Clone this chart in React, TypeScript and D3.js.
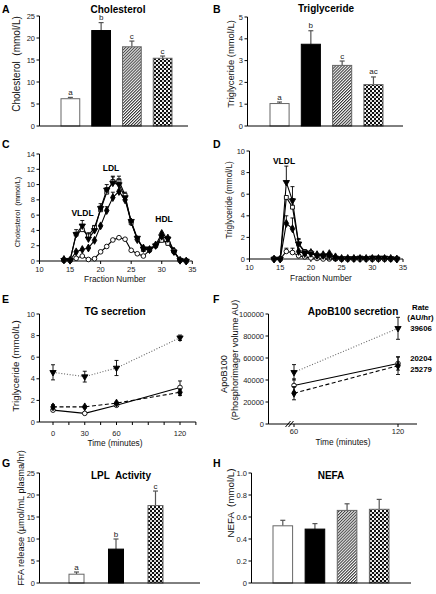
import React from "react";
import * as d3 from "d3";

const FONT = '"Liberation Sans", Arial, Helvetica, sans-serif';

// ---------- Bar panel data ----------
const barGroups = ["G1", "G2", "G3", "G4"];
const cholValues = [6.2, 21.7, 18.0, 15.4];
const cholErrors = [0.3, 1.8, 1.3, 0.5];
const cholLetters = ["a", "b", "c", "c"];
const cholTicks = [0, 5, 10, 15, 20, 25];

const tgValues = [1.03, 3.75, 2.78, 1.9];
const tgErrors = [0.07, 0.62, 0.2, 0.35];
const tgLetters = ["a", "b", "c", "ac"];
const tgTicks = [0, 1, 2, 3, 4, 5];

const lplGroups = ["G1", "G2", "G4"];
const lplValues = [2.0, 7.7, 17.6];
const lplErrors = [0.5, 2.3, 3.3];
const lplLetters = ["a", "b", "c"];
const lplTicks = [0, 5, 10, 15, 20, 25];

const nefaValues = [0.52, 0.49, 0.66, 0.67];
const nefaErrors = [0.05, 0.05, 0.06, 0.09];
const nefaTicks = [0, 0.2, 0.4, 0.6, 0.8, 1.0];

// ---------- FPLC fraction data ----------
const fractions = [14, 15, 16, 17, 18, 19, 20, 21, 22, 23, 24, 25, 26, 27, 28, 29, 30, 31, 32, 33, 34];
const fracTicks = [10, 15, 20, 25, 30, 35];

const cholCircle = [0.1, 0.1, 0.35, 0.65, 0.2, 0.3, 1.2, 1.9, 2.75, 3.05, 2.85, 1.4, 0.95, 0.65, 1.4, 2.0, 2.8, 2.4, 1.2, 0.1, 0.0];
const cholDiamond = [0.2, 0.1, 1.2, 1.5, 1.7, 2.7, 4.6, 6.6, 8.3, 9.1, 8.0, 5.1, 2.8, 1.7, 1.5, 2.1, 3.6, 3.0, 1.3, 0.1, 0.0];
const cholSquare = [0.1, 0.1, 3.5, 4.1, 3.3, 4.4, 6.7, 9.0, 10.4, 10.5, 8.6, 5.0, 2.9, 1.5, 1.5, 2.0, 2.7, 2.3, 1.3, 0.1, 0.0];
const cholTriangle = [0.1, 0.1, 3.5, 4.6, 2.9, 4.0, 6.9, 9.3, 10.2, 10.0, 8.3, 5.2, 3.0, 1.6, 1.6, 2.0, 3.2, 2.9, 1.2, 0.1, 0.0];
const cholDiamondErr = [0, 0, 0, 0, 0, 0, 0, 0.5, 0.7, 0, 0.5, 0, 0, 0, 0, 0, 0, 0, 0, 0, 0];
const cholSquareErr = [0, 0, 0.6, 0, 0, 0, 0.5, 0.6, 0.7, 0.6, 0.4, 0, 0, 0, 0, 0, 0, 0, 0, 0, 0];
const cholTriangleErr = [0, 0, 0, 0.7, 0.8, 0.6, 0.6, 0.7, 0.8, 0.7, 0, 0, 0, 0, 0, 0, 0, 0, 0, 0, 0];
const cholFracTicks = [0, 2, 4, 6, 8, 10, 12, 14];

const tgCircle = [0.0, 0.0, 0.7, 0.6, 0.3, 0.2, 0.1, 0.05, 0.0, 0.0, 0.0, 0.0, 0.0, 0.0, 0.0, 0.0, 0.0, 0.0, 0.0, 0.0, 0.0];
const tgDiamond = [0.0, 0.0, 3.3, 2.8, 0.7, 0.5, 0.6, 0.4, 0.4, 0.5, 0.2, 0.05, 0.05, 0.05, 0.05, 0.05, 0.05, 0.05, 0.05, 0.05, 0.0];
const tgSquare = [0.0, 0.0, 5.7, 4.8, 1.4, 0.7, 0.6, 0.3, 0.3, 0.1, 0.05, 0.0, 0.0, 0.0, 0.0, 0.0, 0.0, 0.0, 0.0, 0.0, 0.0];
const tgTriangle = [0.0, 0.0, 7.1, 5.4, 1.4, 0.6, 0.5, 0.3, 0.3, 0.3, 0.1, 0.05, 0.05, 0.05, 0.1, 0.05, 0.1, 0.1, 0.1, 0.05, 0.0];
const tgCircleErr = [0, 0, 0.3, 0.4, 0, 0, 0, 0, 0, 0, 0, 0, 0, 0, 0, 0, 0, 0, 0, 0, 0];
const tgDiamondErr = [0, 0, 0.7, 1.0, 0, 0, 0, 0, 0, 0, 0, 0, 0, 0, 0, 0, 0, 0, 0, 0, 0];
const tgSquareErr = [0, 0, 0, 0.8, 0.4, 0, 0, 0, 0, 0, 0, 0, 0, 0, 0, 0, 0, 0, 0, 0, 0];
const tgTriangleErr = [0, 0, 1.5, 1.3, 0.5, 0, 0, 0, 0, 0, 0, 0, 0, 0, 0, 0, 0, 0, 0, 0, 0];
const tgFracTicks = [0, 2, 4, 6, 8, 10];

// ---------- TG secretion ----------
const tgTimes = [0, 30, 60, 120];
const tgTimeTicks = [0, 15, 30, 45, 60, 75, 90, 105, 120, 135];
const tgTimeLabels = [0, 30, 60, 120];
const secTriangle = [4.6, 4.2, 5.0, 7.8];
const secTriangleErr = [0.7, 0.5, 0.7, 0.25];
const secDiamond = [1.4, 1.4, 1.75, 2.75];
const secDiamondErr = [0.2, 0.1, 0.1, 0.3];
const secCircle = [1.1, 0.8, 1.55, 3.2];
const secCircleErr = [0.1, 0.05, 0.1, 0.6];
const secTicks = [0, 2, 4, 6, 8, 10];

// ---------- ApoB100 secretion ----------
const apoTimes = [60, 120];
const apoTriangle = [47000, 87000];
const apoTriangleErr = [7000, 10000];
const apoCircle = [35000, 55000];
const apoCircleErr = [6000, 6000];
const apoDiamond = [28000, 53000];
const apoDiamondErr = [6000, 8000];
const apoTicks = [0, 20000, 40000, 60000, 80000, 100000];
const apoRates = ["39606", "20204", "25279"];

const groupFill: Record<string, string> = {
  G1: "#ffffff",
  G2: "#000000",
  G3: "url(#hatch)",
  G4: "url(#check)",
};

type Scale = (v: number) => number;

function YAxis({ y, x, ticks, fmt, size = 7.5 }: { y: Scale; x: number; ticks: number[]; fmt: (v: number) => string; size?: number }) {
  return (
    <g>
      <line x1={x} x2={x} y1={y(ticks[0])} y2={y(ticks[ticks.length - 1])} stroke="#000" strokeWidth={1} />
      {ticks.map((t) => (
        <g key={t}>
          <line x1={x - 3} x2={x} y1={y(t)} y2={y(t)} stroke="#000" strokeWidth={1} />
          <text x={x - 4.5} y={y(t)} dy="0.35em" textAnchor="end" fontSize={size} fill="#222">
            {fmt(t)}
          </text>
        </g>
      ))}
    </g>
  );
}

function BarPanel(p: {
  cats: string[]; values: number[]; errors: number[]; letters?: string[]; ticks: number[];
  fmt: (v: number) => string; axisX: number; axisRight: number; yTop: number; yBottom: number;
  barL: number; barR: number; pad: number;
}) {
  const x = d3.scaleBand<string>().domain(p.cats).range([p.barL, p.barR]).paddingInner(p.pad).paddingOuter(0);
  const y = d3.scaleLinear().domain([p.ticks[0], p.ticks[p.ticks.length - 1]]).range([p.yBottom, p.yTop]);
  return (
    <g>
      {p.cats.map((c, i) => {
        const x0 = x(c)!;
        const w = x.bandwidth();
        const cx = x0 + w / 2;
        const top = y(p.values[i]);
        const et = y(p.values[i] + p.errors[i]);
        return (
          <g key={c}>
            <line x1={cx} x2={cx} y1={top} y2={et} stroke="#555" strokeWidth={1.2} />
            <line x1={cx - 2.5} x2={cx + 2.5} y1={et} y2={et} stroke="#555" strokeWidth={1.2} />
            <rect x={x0} y={top} width={w} height={y(0) - top} fill={groupFill[c]} stroke={c === "G2" ? "#000" : "#666"} strokeWidth={1} />
            {p.letters && (
              <text x={cx} y={et - 2.5} textAnchor="middle" fontSize={8} fill="#222">
                {p.letters[i]}
              </text>
            )}
          </g>
        );
      })}
      <line x1={p.axisX} x2={p.axisRight} y1={y(0)} y2={y(0)} stroke="#000" strokeWidth={1} />
      <YAxis y={y} x={p.axisX} ticks={p.ticks} fmt={p.fmt} />
    </g>
  );
}

type Kind = "circle" | "square" | "diamond" | "triangle";
const symPaths: Record<Kind, string> = {
  circle: d3.symbol().type(d3.symbolCircle).size(17)() as string,
  square: d3.symbol().type(d3.symbolSquare).size(15)() as string,
  diamond: d3.symbol().type(d3.symbolDiamond).size(18)() as string,
  triangle: d3.symbol().type(d3.symbolTriangle).size(17)() as string,
};

function Series(p: {
  xs: number[]; ys: number[]; errs?: number[]; x: Scale; y: Scale; kind: Kind;
  stroke?: string; dash?: string; both?: boolean; part: "line" | "marks";
}) {
  if (p.part === "line") {
    const line = d3.line<number>().x((_, i) => p.x(p.xs[i])).y((d) => p.y(d));
    return <path d={line(p.ys) || ""} fill="none" stroke={p.stroke || "#000"} strokeWidth={1.1} strokeDasharray={p.dash} />;
  }
  const open = p.kind === "circle" || p.kind === "square";
  return (
    <g>
      {p.errs &&
        p.ys.map((v, i) => {
          const e = p.errs![i];
          if (!e) return null;
          const cx = p.x(p.xs[i]);
          const t = p.y(v + e);
          const b = p.both ? p.y(v - e) : p.y(v);
          return (
            <g key={"e" + i} stroke="#000" strokeWidth={0.9}>
              <line x1={cx} x2={cx} y1={t} y2={b} />
              <line x1={cx - 2} x2={cx + 2} y1={t} y2={t} />
              {p.both && <line x1={cx - 2} x2={cx + 2} y1={b} y2={b} />}
            </g>
          );
        })}
      {p.ys.map((v, i) => (
        <path
          key={"m" + i}
          d={symPaths[p.kind]}
          transform={`translate(${p.x(p.xs[i])},${p.y(v)})${p.kind === "triangle" ? " rotate(180)" : ""}`}
          fill={open ? "#fff" : "#000"}
          stroke="#000"
          strokeWidth={0.9}
        />
      ))}
    </g>
  );
}

function XAxis({ x, y0, ticks, labels, from, to, labelY, size = 7.5 }: { x: Scale; y0: number; ticks: number[]; labels: number[]; from: number; to: number; labelY: number; size?: number }) {
  return (
    <g>
      <line x1={from} x2={to} y1={y0} y2={y0} stroke="#000" strokeWidth={1} />
      {ticks.map((t) => (
        <line key={t} x1={x(t)} x2={x(t)} y1={y0} y2={y0 + 3} stroke="#000" strokeWidth={1} />
      ))}
      {labels.map((t) => (
        <text key={"l" + t} x={x(t)} y={labelY} textAnchor="middle" fontSize={size} fill="#222">
          {t}
        </text>
      ))}
    </g>
  );
}

function YLabel({ x, y, text, size, bold }: { x: number; y: number; text: string; size: number; bold?: boolean }) {
  return (
    <text transform={`translate(${x},${y}) rotate(-90)`} textAnchor="middle" fontSize={size} fontWeight={bold ? "bold" : "normal"} fill="#111" style={{ whiteSpace: "pre" }}>
      {text}
    </text>
  );
}

function Title({ x, y, text, size = 10 }: { x: number; y: number; text: string; size?: number }) {
  return (
    <text x={x} y={y} textAnchor="middle" fontSize={size} fontWeight="bold" fill="#000" style={{ whiteSpace: "pre" }}>
      {text}
    </text>
  );
}

function Letter({ x, y, text }: { x: number; y: number; text: string }) {
  return (
    <text x={x} y={y} fontSize={10.5} fontWeight="bold" fill="#000">
      {text}
    </text>
  );
}

function FractionPanel(p: {
  x0: number; x1: number; yTop: number; yBottom: number; yTicks: number[];
  circle: number[]; diamond: number[]; square: number[]; triangle: number[];
  circleErr?: number[]; diamondErr?: number[]; squareErr?: number[]; triangleErr?: number[];
  labelY: number;
}) {
  const x = d3.scaleLinear().domain([fracTicks[0], fracTicks[fracTicks.length - 1]]).range([p.x0, p.x1]);
  const y = d3.scaleLinear().domain([p.yTicks[0], p.yTicks[p.yTicks.length - 1]]).range([p.yBottom, p.yTop]);
  const series: { ys: number[]; errs?: number[]; kind: Kind }[] = [
    { ys: p.circle, errs: p.circleErr, kind: "circle" },
    { ys: p.diamond, errs: p.diamondErr, kind: "diamond" },
    { ys: p.square, errs: p.squareErr, kind: "square" },
    { ys: p.triangle, errs: p.triangleErr, kind: "triangle" },
  ];
  return (
    <g>
      <XAxis x={x} y0={y(0)} ticks={fracTicks} labels={fracTicks} from={x(10)} to={x(35)} labelY={p.labelY} />
      <YAxis y={y} x={p.x0} ticks={p.yTicks} fmt={(v) => String(v)} />
      {series.map((s) => (
        <Series key={"l" + s.kind} xs={fractions} ys={s.ys} x={x} y={y} kind={s.kind} part="line" />
      ))}
      {series.map((s) => (
        <Series key={"m" + s.kind} xs={fractions} ys={s.ys} errs={s.errs} x={x} y={y} kind={s.kind} part="marks" />
      ))}
    </g>
  );
}

function TGSecretion() {
  const x = d3.scaleLinear().domain([0, 120]).range([53, 180]);
  const y = d3.scaleLinear().domain([0, 10]).range([422, 314]);
  const s = [
    { ys: secCircle, errs: secCircleErr, kind: "circle" as Kind, dash: undefined, stroke: "#000" },
    { ys: secDiamond, errs: secDiamondErr, kind: "diamond" as Kind, dash: "4 2.5", stroke: "#000" },
    { ys: secTriangle, errs: secTriangleErr, kind: "triangle" as Kind, dash: "1 1.8", stroke: "#666" },
  ];
  return (
    <g>
      <XAxis x={x} y0={y(0)} ticks={tgTimeTicks} labels={tgTimeLabels} from={39.5} to={x(135)} labelY={436} />
      <YAxis y={y} x={39.5} ticks={secTicks} fmt={(v) => String(v)} />
      {s.map((d) => (
        <Series key={"l" + d.kind} xs={tgTimes} ys={d.ys} x={x} y={y} kind={d.kind} dash={d.dash} stroke={d.stroke} part="line" />
      ))}
      {s.map((d) => (
        <Series key={"m" + d.kind} xs={tgTimes} ys={d.ys} errs={d.errs} both x={x} y={y} kind={d.kind} part="marks" />
      ))}
    </g>
  );
}

function ApoSecretion() {
  const x = d3.scaleLinear().domain([60, 120]).range([294, 398]);
  const y = d3.scaleLinear().domain([0, 100000]).range([424, 314]);
  const s = [
    { ys: apoCircle, errs: apoCircleErr, kind: "circle" as Kind, dash: undefined, stroke: "#000" },
    { ys: apoDiamond, errs: apoDiamondErr, kind: "diamond" as Kind, dash: "4 2.5", stroke: "#000" },
    { ys: apoTriangle, errs: apoTriangleErr, kind: "triangle" as Kind, dash: "1 1.8", stroke: "#666" },
  ];
  const y0 = y(0);
  return (
    <g>
      <XAxis x={x} y0={y0} ticks={apoTimes} labels={apoTimes} from={268.5} to={417} labelY={434} />
      <g stroke="#000" strokeWidth={1}>
        <line x1={285.5} x2={290.5} y1={y0 + 3} y2={y0 - 3} />
        <line x1={288.5} x2={293.5} y1={y0 + 3} y2={y0 - 3} />
      </g>
      <YAxis y={y} x={268.5} ticks={apoTicks} fmt={(v) => String(v)} />
      {s.map((d) => (
        <Series key={"l" + d.kind} xs={apoTimes} ys={d.ys} x={x} y={y} kind={d.kind} dash={d.dash} stroke={d.stroke} part="line" />
      ))}
      {s.map((d) => (
        <Series key={"m" + d.kind} xs={apoTimes} ys={d.ys} errs={d.errs} both x={x} y={y} kind={d.kind} part="marks" />
      ))}
    </g>
  );
}

export default function App() {
  const fmtInt = (v: number) => String(v);
  const fmtDec = (v: number) => (v === 0 ? "0" : v.toFixed(1));
  return (
    <svg
      width={436}
      height={594}
      viewBox="0 0 436 594"
      style={{ position: "absolute", left: 0, top: 0, background: "#fff", fontFamily: FONT }}
    >
      <defs>
        <pattern id="hatch" width={2.1} height={6} patternUnits="userSpaceOnUse" patternTransform="rotate(45)">
          <rect width={2.1} height={6} fill="#fff" />
          <line x1={0.5} x2={0.5} y1={0} y2={6} stroke="#333" strokeWidth={1.05} />
        </pattern>
        <pattern id="check" width={4} height={4} patternUnits="userSpaceOnUse">
          <rect width={4} height={4} fill="#fff" />
          <rect x={0} y={0} width={2} height={2} fill="#111" />
          <rect x={2} y={2} width={2} height={2} fill="#111" />
          <rect x={2} y={0} width={2} height={2} fill="#777" opacity={0.35} />
        </pattern>
      </defs>
      <rect width={436} height={594} fill="#fff" />

      {/* A */}
      <Letter x={2} y={12.7} text="A" />
      <Title x={118} y={12.5} text="Cholesterol" />
      <YLabel x={20} y={64} text={"Cholesterol  (mmol/L)"} size={10} />
      <BarPanel cats={barGroups} values={cholValues} errors={cholErrors} letters={cholLetters} ticks={cholTicks} fmt={fmtInt}
        axisX={39.5} axisRight={188} yTop={16} yBottom={126} barL={61} barR={172} pad={0.39} />

      {/* B */}
      <Letter x={213} y={13} text="B" />
      <Title x={326} y={11.7} text="Triglyceride" />
      <YLabel x={233.5} y={64} text={"Triglyceride (mmol/L)"} size={9.4} />
      <BarPanel cats={barGroups} values={tgValues} errors={tgErrors} letters={tgLetters} ticks={tgTicks} fmt={fmtInt}
        axisX={247.5} axisRight={403} yTop={17} yBottom={126} barL={270} barR={383} pad={0.39} />

      {/* C */}
      <Letter x={2} y={148} text="C" />
      <YLabel x={19.5} y={212} text={"Cholesterol  (mmol/L)"} size={7.4} />
      <FractionPanel x0={39.5} x1={192.3} yTop={154} yBottom={261} yTicks={cholFracTicks}
        circle={cholCircle} diamond={cholDiamond} square={cholSquare} triangle={cholTriangle}
        diamondErr={cholDiamondErr} squareErr={cholSquareErr} triangleErr={cholTriangleErr} labelY={272} />
      <text x={115} y={282} textAnchor="middle" fontSize={8.3} fill="#111">Fraction Number</text>
      <text x={82.5} y={216} textAnchor="middle" fontSize={8.5} fontWeight="bold">VLDL</text>
      <text x={111} y={171} textAnchor="middle" fontSize={8.5} fontWeight="bold">LDL</text>
      <text x={164} y={222} textAnchor="middle" fontSize={8.5} fontWeight="bold">HDL</text>

      {/* D */}
      <Letter x={213} y={148} text="D" />
      <YLabel x={232} y={200} text={"Triglyceride (mmol/L)"} size={8.3} />
      <FractionPanel x0={249.5} x1={403} yTop={151} yBottom={259} yTicks={tgFracTicks}
        circle={tgCircle} diamond={tgDiamond} square={tgSquare} triangle={tgTriangle}
        circleErr={tgCircleErr} diamondErr={tgDiamondErr} squareErr={tgSquareErr} triangleErr={tgTriangleErr} labelY={269.5} />
      <text x={321} y={280.5} textAnchor="middle" fontSize={8.3} fill="#111">Fraction Number</text>
      <text x={284} y={164} textAnchor="middle" fontSize={8.5} fontWeight="bold">VLDL</text>

      {/* E */}
      <Letter x={2} y={303} text="E" />
      <Title x={115} y={315.3} text="TG secretion" />
      <YLabel x={19} y={366} text={"Triglyceride (mmol/L)"} size={9.8} />
      <TGSecretion />
      <text x={115} y={446} textAnchor="middle" fontSize={8.3} fill="#111">Time (minutes)</text>

      {/* F */}
      <Letter x={213} y={303} text="F" />
      <Title x={353} y={314.7} text="ApoB100 secretion" />
      <YLabel x={226.5} y={374} text={"ApoB100"} size={9.2} />
      <YLabel x={238} y={360} text={"(Phosphorimager volume AU)"} size={9.2} />
      <ApoSecretion />
      <text x={343} y={445} textAnchor="middle" fontSize={8.3} fill="#111">Time (minutes)</text>
      <g fontWeight="bold" fontSize={7.8} textAnchor="middle" fill="#000">
        <text x={420.5} y={309.7}>Rate</text>
        <text x={420.5} y={319.5}>(AU/hr)</text>
        <text x={421} y={331}>{apoRates[0]}</text>
        <text x={421} y={360.5}>{apoRates[1]}</text>
        <text x={421} y={372}>{apoRates[2]}</text>
      </g>

      {/* G */}
      <Letter x={2} y={466.7} text="G" />
      <Title x={121} y={479} text={"LPL  Activity"} />
      <YLabel x={23.5} y={518} text={"FFA release (µmol/mL plasma/hr)"} size={9.2} />
      <BarPanel cats={lplGroups} values={lplValues} errors={lplErrors} letters={lplLetters} ticks={lplTicks} fmt={fmtInt}
        axisX={39.5} axisRight={200} yTop={473} yBottom={583} barL={69} barR={163} pad={0.62} />

      {/* H */}
      <Letter x={213} y={466.7} text="H" />
      <Title x={331} y={479.3} text="NEFA" />
      <YLabel x={234} y={503} text={"NEFA  (mmol/L)"} size={9.8} />
      <BarPanel cats={barGroups} values={nefaValues} errors={nefaErrors} ticks={nefaTicks} fmt={fmtDec}
        axisX={251.5} axisRight={411} yTop={473} yBottom={583} barL={273} barR={389} pad={0.39} />
    </svg>
  );
}
